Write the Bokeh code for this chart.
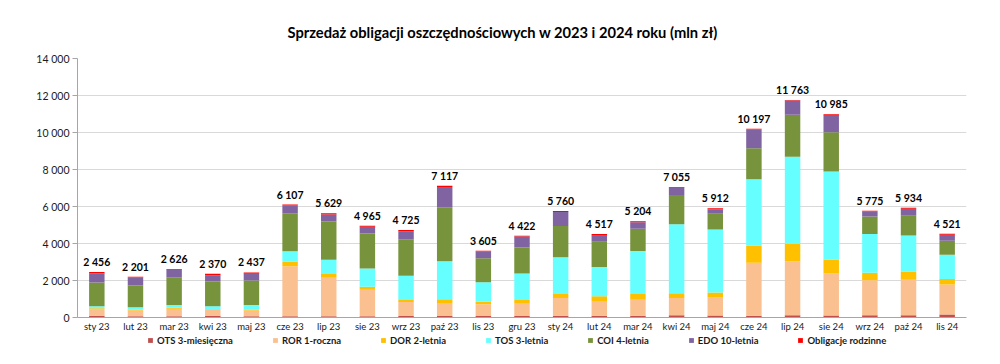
from bokeh.plotting import figure
from bokeh.models import ColumnDataSource, FixedTicker, Legend, LegendItem, Range1d
from bokeh.layouts import column
from bokeh.core.properties import value
from bokeh.embed import file_html
from bokeh.resources import INLINE

months = ["sty 23", "lut 23", "mar 23", "kwi 23", "maj 23", "cze 23", "lip 23", "sie 23",
          "wrz 23", "paź 23", "lis 23", "gru 23", "sty 24", "lut 24", "mar 24", "kwi 24",
          "maj 24", "cze 24", "lip 24", "sie 24", "wrz 24", "paź 24", "lis 24"]

ots = [100, 70, 70, 90, 70, 70, 70, 70, 75, 75, 75, 75, 90, 90, 90, 120, 110, 90, 125, 110, 125, 125, 160]
ror = [330, 310, 400, 340, 310, 2705, 2075, 1425, 760, 705, 635, 705, 965, 800, 910, 940, 970, 2865, 2920, 2285, 1890, 1910, 1625]
dor = [75, 55, 55, 35, 55, 235, 200, 165, 110, 200, 145, 165, 220, 255, 275, 255, 270, 935, 935, 740, 400, 450, 290]
tos = [105, 125, 145, 145, 235, 575, 775, 990, 1310, 2055, 1055, 1435, 1980, 1580, 2325, 3730, 3405, 3585, 4705, 4755, 2105, 1945, 1315]
coi = [1280, 1170, 1510, 1335, 1330, 2055, 2070, 1890, 1980, 2930, 1290, 1400, 1690, 1365, 1200, 1570, 850, 1675, 2270, 2130, 935, 1065, 755]
edo = [505, 430, 395, 345, 360, 415, 380, 360, 420, 1090, 365, 600, 755, 365, 345, 395, 250, 1010, 775, 880, 280, 380, 325]
rodz = [61, 41, 51, 80, 77, 52, 59, 65, 70, 62, 40, 42, 60, 62, 59, 45, 57, 37, 33, 85, 40, 59, 51]

totals = [2456, 2201, 2626, 2370, 2437, 6107, 5629, 4965, 4725, 7117, 3605, 4422, 5760, 4517, 5204,
          7055, 5912, 10197, 11763, 10985, 5775, 5934, 4521]

series_names = ["OTS 3-miesięczna", "ROR 1-roczna", "DOR 2-letnia", "TOS 3-letnia",
                "COI 4-letnia", "EDO 10-letnia", "Obligacje rodzinne"]
series_keys = ["ots", "ror", "dor", "tos", "coi", "edo", "rodz"]
colors = ["#c0504d", "#fac090", "#ffc000", "#66ffff", "#77933c", "#8064a2", "#ff0000"]

y_ticks = [0, 2000, 4000, 6000, 8000, 10000, 12000, 14000]

def fmt(v):
    return "{:,}".format(v).replace(",", " ")

FONT = "Lato"

src = ColumnDataSource(dict(months=months, ots=ots, ror=ror, dor=dor, tos=tos, coi=coi,
                            edo=edo, rodz=rodz))

p = figure(x_range=months, y_range=Range1d(0, 14000), width=1000, height=334,
           output_backend="svg", toolbar_location=None,
           min_border_left=77, min_border_right=34, min_border_top=58, min_border_bottom=16)
p.outline_line_color = None
p.background_fill_color = "white"

rs = p.vbar_stack(series_keys, x="months", width=0.4, color=colors, line_color=None, source=src)

tsrc = ColumnDataSource(dict(months=months, totals=totals, lab=[fmt(t) for t in totals]))
p.text(x="months", y="totals", text="lab", source=tsrc, text_align="center",
       text_baseline="bottom", y_offset=-4, text_font=value(FONT), text_font_style="bold",
       text_font_size="10.5px", text_color="#000000")

# axes
p.yaxis.ticker = FixedTicker(ticks=y_ticks)
p.yaxis.major_label_overrides = {t: fmt(t) for t in y_ticks}
p.yaxis.minor_tick_line_color = None
p.yaxis.major_tick_in = 0
p.yaxis.major_tick_out = 5
p.yaxis.axis_line_color = "#a6a6a6"
p.yaxis.major_tick_line_color = "#a6a6a6"
p.yaxis.major_label_text_font = FONT
p.yaxis.major_label_text_font_size = "10.5px"
p.yaxis.major_label_text_color = "#1a1a1a"
p.yaxis.major_label_standoff = 3

p.xaxis.axis_line_color = "#a6a6a6"
p.xaxis.major_tick_line_color = None
p.xaxis.major_tick_in = 0
p.xaxis.major_tick_out = 0
p.xaxis.major_label_text_font = FONT
p.xaxis.major_label_text_font_size = "9.5px"
p.xaxis.major_label_text_color = "#1a1a1a"
p.xaxis.major_label_standoff = 3

p.xgrid.grid_line_color = None
p.ygrid.ticker = FixedTicker(ticks=y_ticks)
p.ygrid.grid_line_color = "#d9d9d9"

# title
p.title.text = "Sprzedaż obligacji oszczędnościowych w 2023 i 2024 roku (mln zł)"
p.title.align = "left"
p.title.offset = 210
p.title.text_font = FONT
p.title.text_font_style = "bold"
p.title.text_font_size = "14.7px"
p.title.text_color = "#000000"
p.title.standoff = 35

# legend strip below the chart (swatch renderers hold no visible data)
lg = figure(width=1000, height=30, output_backend="svg", toolbar_location=None,
            x_range=Range1d(0, 1), y_range=Range1d(0, 1),
            x_axis_location=None, y_axis_location=None,
            min_border_left=0, min_border_right=0, min_border_top=0, min_border_bottom=0)
lg.outline_line_color = None
lg.grid.visible = False
dummies = [lg.vbar(x=[0.5], top=[-100], bottom=[-101], width=0.001, color=c, line_color=None)
           for c in colors]
items = [LegendItem(label=n, renderers=[r]) for n, r in zip(series_names, dummies)]
legend = Legend(items=items, orientation="horizontal", location=(70, 18),
                glyph_width=6, glyph_height=6, label_standoff=4, spacing=39,
                padding=3, margin=0, label_height=12,
                label_text_font=FONT, label_text_font_style="bold", label_text_font_size="9.5px",
                label_text_color="#1a1a1a",
                background_fill_alpha=0, border_line_color=None)
lg.add_layout(legend, "center")

layout = column(p, lg, spacing=0)
open("out.html", "w").write(file_html(layout, INLINE))
